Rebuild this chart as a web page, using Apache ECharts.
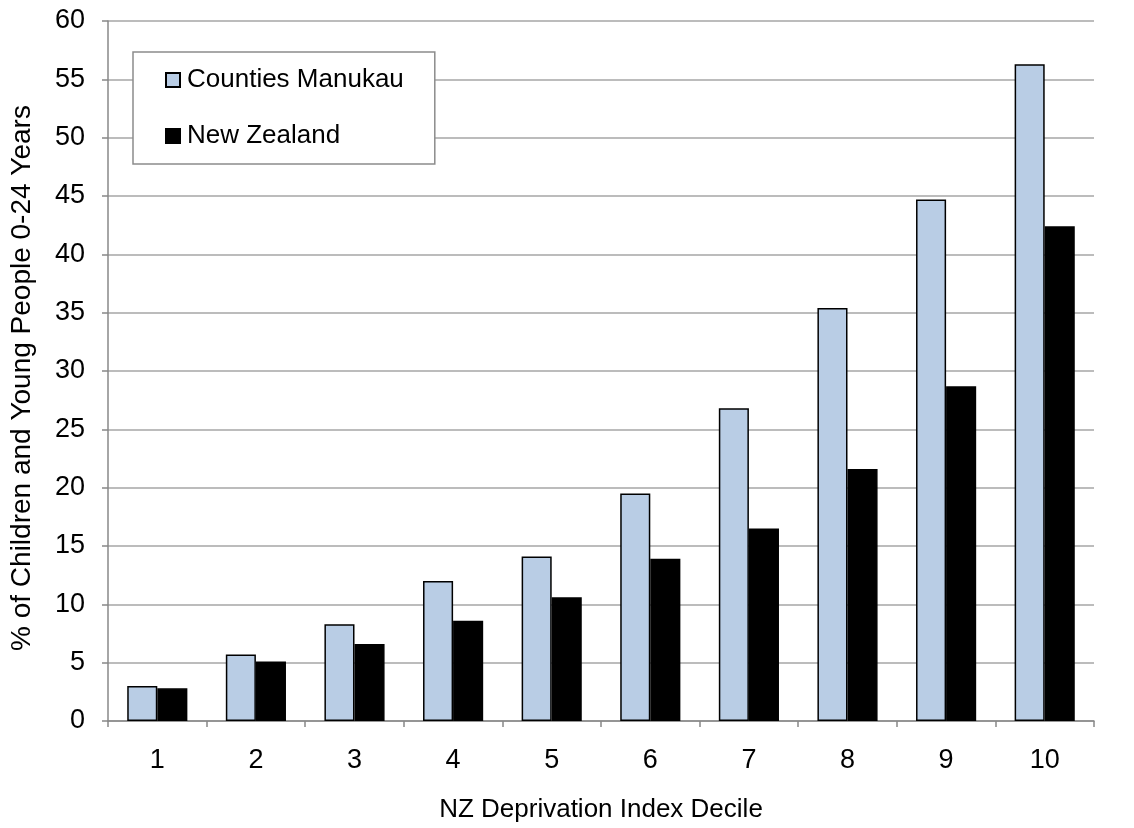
<!DOCTYPE html>
<html>
<head>
<meta charset="utf-8">
<script src="https://cdn.jsdelivr.net/npm/echarts@6/dist/echarts.min.js"></script>
<style>html,body{margin:0;padding:0;background:#fff}#c{width:1134px;height:828px}</style>
</head>
<body>
<div id="c"></div>
<script>
const categories = ['1','2','3','4','5','6','7','8','9','10'];
const countiesManukau = [3.0, 5.7, 8.3, 12.0, 14.1, 19.5, 26.8, 35.4, 44.7, 56.3];
const newZealand = [2.8, 5.1, 6.6, 8.6, 10.6, 13.9, 16.5, 21.6, 28.7, 42.4];
const seriesNames = ['Counties Manukau', 'New Zealand'];
const xTitle = 'NZ Deprivation Index Decile';
const yTitle = '% of Children and Young People 0-24 Years';

const font = 'Liberation Sans, Arial, sans-serif';
const chart = echarts.init(document.getElementById('c'), null, {renderer: 'canvas'});
chart.setOption({
  animation: false,
  backgroundColor: '#fff',
  textStyle: {fontFamily: font},
  grid: {left: 105, right: 40, top: 21, bottom: 101, containLabel: false},
  legend: {
    orient: 'vertical', left: 133, top: 52,
    backgroundColor: '#fff', borderColor: '#8c8c8c', borderWidth: 1.5,
    padding: [15, 31, 15, 32],
    itemWidth: 14, itemHeight: 14, itemGap: 30,
    textStyle: {fontFamily: font, fontSize: 26, color: '#000', padding: [0,0,0,2]},
    data: seriesNames.map(n => ({name: n, icon: 'rect'}))
  },
  xAxis: {
    type: 'category', data: categories,
    name: xTitle, nameLocation: 'middle', nameGap: 76,
    nameTextStyle: {fontFamily: font, fontSize: 26, color: '#000'},
    axisLine: {lineStyle: {color: '#888', width: 1.5}},
    axisTick: {show: true, alignWithLabel: false, length: 6, lineStyle: {color: '#888', width: 1.5}},
    axisLabel: {fontFamily: font, fontSize: 27, color: '#000', margin: 26}
  },
  yAxis: {
    type: 'value', min: 0, max: 60, interval: 5,
    name: yTitle, nameLocation: 'middle', nameGap: 72, nameRotate: 90,
    nameTextStyle: {fontFamily: font, fontSize: 28, color: '#000', padding: [0, 14, 0, 0]},
    axisLine: {show: true, lineStyle: {color: '#888', width: 1.5}},
    axisTick: {show: true, length: 6, lineStyle: {color: '#888', width: 1.5}},
    axisLabel: {fontFamily: font, fontSize: 27, color: '#000', margin: 23},
    splitLine: {lineStyle: {color: '#a6a6a6', width: 1.5}}
  },
  series: [
    {name: seriesNames[0], type: 'bar', data: countiesManukau,
     barGap: '0%', barCategoryGap: '39%',
     itemStyle: {color: '#b9cde5', borderColor: '#000', borderWidth: 1.5}},
    {name: seriesNames[1], type: 'bar', data: newZealand,
     itemStyle: {color: '#000', borderColor: '#000', borderWidth: 1.5}}
  ]
});
</script>
</body>
</html>
